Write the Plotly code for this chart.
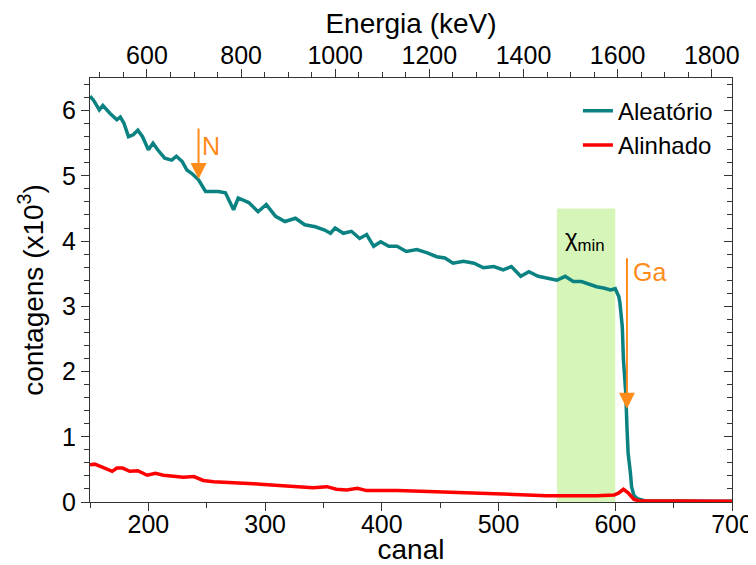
import plotly.graph_objects as go

# ---- data ----
canal_aleatorio = [150, 153, 158, 161, 167, 173, 176, 179, 183, 187, 191, 195, 200, 204, 208,
                   214, 220, 224, 229, 233, 237, 243, 249, 254, 260, 266, 273, 277, 286, 294,
                   301, 309, 317, 326, 334, 343, 351, 356, 360, 367, 374, 381, 387, 393, 399,
                   406, 413, 421, 430, 439, 447, 454, 461, 470, 479, 487, 496, 504, 511, 519,
                   526, 534, 543, 550, 557, 564, 571, 579, 584, 590, 596, 600, 603, 604, 606,
                   607, 609, 610, 611, 613, 614, 616, 619, 625, 640, 660, 680, 700]
aleatorio = [6.22, 6.16, 6.01, 6.08, 5.96, 5.86, 5.90, 5.81, 5.60, 5.63, 5.70, 5.60, 5.40, 5.50, 5.40,
             5.27, 5.24, 5.30, 5.22, 5.09, 5.04, 4.94, 4.76, 4.76, 4.76, 4.74, 4.48, 4.66, 4.59, 4.45,
             4.56, 4.38, 4.30, 4.35, 4.25, 4.22, 4.17, 4.12, 4.20, 4.12, 4.15, 4.04, 4.10, 3.92, 3.99,
             3.92, 3.92, 3.84, 3.87, 3.82, 3.76, 3.74, 3.66, 3.69, 3.66, 3.59, 3.61, 3.56, 3.61, 3.46,
             3.53, 3.46, 3.43, 3.40, 3.46, 3.38, 3.38, 3.33, 3.30, 3.28, 3.25, 3.27, 3.15, 3.05, 2.69,
             2.18, 1.67, 1.15, 0.75, 0.44, 0.23, 0.10, 0.05, 0.02, 0.015, 0.01, 0.012, 0.01]

canal_alinhado = [150, 154, 161, 169, 173, 178, 184, 191, 199, 206, 213, 221, 230, 239, 247,
                  256, 264, 273, 281, 290, 299, 307, 316, 324, 333, 341, 353, 361, 370, 379,
                  387, 397, 413, 427, 441, 456, 470, 484, 499, 513, 527, 541, 556, 570, 584,
                  599, 603, 607, 611, 614, 616, 620, 640, 660, 680, 700]
alinhado = [0.57, 0.58, 0.53, 0.47, 0.52, 0.52, 0.47, 0.48, 0.41, 0.44, 0.41, 0.40, 0.38, 0.39, 0.33,
            0.31, 0.30, 0.29, 0.29, 0.28, 0.27, 0.26, 0.245, 0.235, 0.235, 0.22, 0.235, 0.195, 0.185, 0.21,
            0.175, 0.17, 0.175, 0.17, 0.16, 0.15, 0.143, 0.133, 0.123, 0.107, 0.097, 0.097, 0.097, 0.092, 0.097,
            0.107, 0.14, 0.195, 0.14, 0.08, 0.04, 0.02, 0.015, 0.012, 0.015, 0.012]

energia_range = [479, 1843]
canal_range = [150, 700]
y_range = [0, 6.5]
chi_window = [550, 600]
chi_height = 4.5

TEAL = "#0a8282"
RED = "#ff0000"
ORANGE = "#ff8c1a"
FONT = "Liberation Sans, Arial, sans-serif"
AX = "#333333"

fig = go.Figure()
fig.add_trace(go.Scatter(x=canal_aleatorio, y=aleatorio, mode="lines", name="Aleatório",
                         line=dict(color=TEAL, width=3.5)))
fig.add_trace(go.Scatter(x=canal_alinhado, y=alinhado, mode="lines", name="Alinhado",
                         line=dict(color=RED, width=3.5)))
# helper traces so the secondary axes are drawn
fig.add_trace(go.Scatter(x=energia_range, y=[0, 0], xaxis="x2", yaxis="y", mode="lines",
                         opacity=0, showlegend=False, hoverinfo="skip"))
fig.add_trace(go.Scatter(x=canal_range, y=[0, 0], xaxis="x", yaxis="y3", mode="lines",
                         opacity=0, showlegend=False, hoverinfo="skip"))

fig.add_shape(type="rect", xref="x", yref="y", x0=chi_window[0], x1=chi_window[1],
              y0=0, y1=chi_height, fillcolor="#d6f5b8", line_width=0, layer="below")

fig.add_annotation(x=243, y=4.95, ax=243, ay=5.75, xref="x", yref="y", axref="x", ayref="y",
                   text="", showarrow=True, arrowhead=2, arrowsize=1.6, arrowwidth=2,
                   arrowcolor=ORANGE)
fig.add_annotation(x=254, y=5.45, text="N", showarrow=False, xanchor="center",
                   font=dict(family=FONT, size=25, color=ORANGE))
fig.add_annotation(x=610, y=1.43, ax=610, ay=3.76, xref="x", yref="y", axref="x", ayref="y",
                   text="", showarrow=True, arrowhead=2, arrowsize=1.6, arrowwidth=2,
                   arrowcolor=ORANGE)
fig.add_annotation(x=629, y=3.52, text="Ga", showarrow=False, xanchor="center",
                   font=dict(family=FONT, size=25, color=ORANGE))
fig.add_annotation(x=574, y=4.02, text="χ<sub>min</sub>", showarrow=False, xanchor="center",
                   font=dict(family=FONT, size=24, color="black"))

axis_common = dict(showline=True, linecolor=AX, linewidth=1.2, showgrid=False,
                   zeroline=False, tickcolor=AX, automargin=False,
                   tickfont=dict(family=FONT, size=25, color="black"))

# page body has an 8px margin, so the figure is sized to fit the 756x565 window
fig.update_layout(
    width=748, height=557,
    margin=dict(l=82, r=24, t=70, b=63),
    paper_bgcolor="white", plot_bgcolor="white",
    font=dict(family=FONT, color="black"),
    xaxis=dict(range=canal_range, dtick=100, ticks="outside", ticklen=8, tickwidth=1.2,
               ticklabelstandoff=-8,
               minor=dict(dtick=50, ticks="outside", ticklen=5, tickcolor=AX),
               title=dict(text="canal", font=dict(family=FONT, size=28), standoff=6),
               **axis_common),
    xaxis2=dict(range=energia_range, overlaying="x", side="top", anchor="y", dtick=200,
                ticks="outside", ticklen=8, tickwidth=1.2, ticklabelstandoff=-5,
                minor=dict(dtick=50, ticks="outside", ticklen=5, tickcolor=AX),
                title=dict(text="Energia (keV)", font=dict(family=FONT, size=28), standoff=2),
                **axis_common),
    yaxis=dict(range=y_range, dtick=1, ticks="outside", ticklen=8, tickwidth=1.2,
               minor=dict(dtick=0.2, ticks="outside", ticklen=5, tickcolor=AX),
               title=dict(text="contagens (x10<sup>3</sup>)", font=dict(family=FONT, size=28),
                          standoff=10),
               **axis_common),
    yaxis3=dict(range=y_range, overlaying="y", side="right", anchor="x", dtick=1,
                ticks="inside", ticklen=8, tickwidth=1.2, showticklabels=False,
                minor=dict(dtick=0.2, ticks="inside", ticklen=5, tickcolor=AX),
                **axis_common),
    legend=dict(x=0.76, y=0.975, xanchor="left", yanchor="top", bgcolor="rgba(0,0,0,0)",
                font=dict(family=FONT, size=24, color="black"), tracegroupgap=0),
    showlegend=True,
)

fig.write_html("out.html")
